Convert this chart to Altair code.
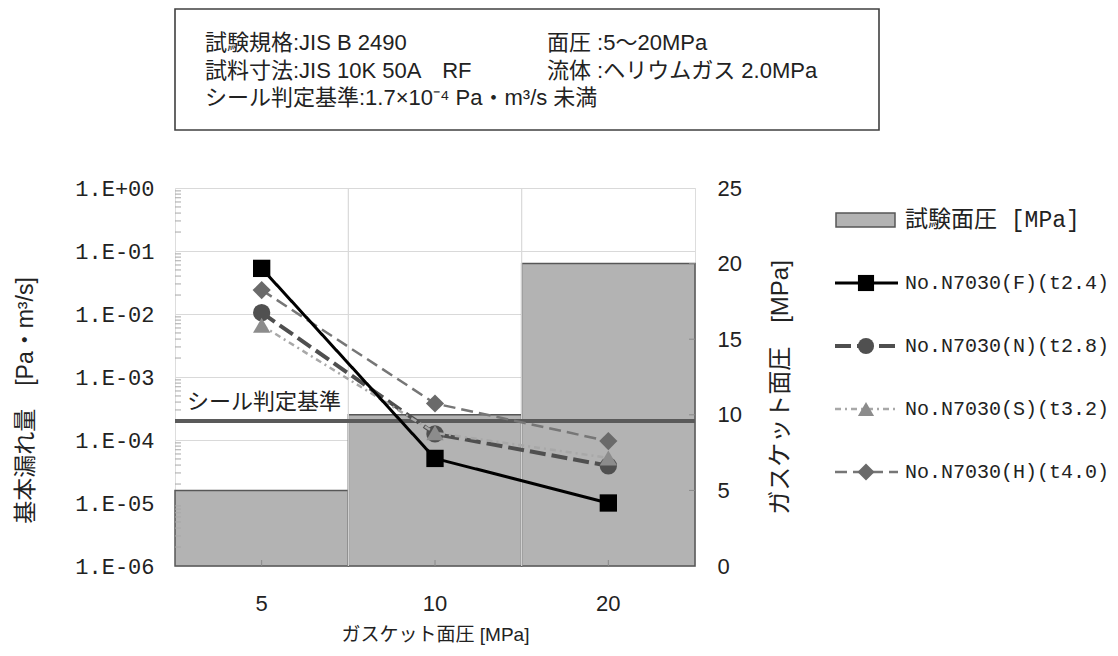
import json
import altair as alt
import pandas as pd

# ---------------- data ----------------
categories = ["5", "10", "20"]
test_pressure = [5, 10, 20]

series_names = [
    "No.N7030(F)(t2.4)",
    "No.N7030(N)(t2.8)",
    "No.N7030(S)(t3.2)",
    "No.N7030(H)(t4.0)",
]
leak_F = [5.3e-2, 5.1e-5, 1.0e-5]
leak_N = [1.05e-2, 1.25e-4, 3.9e-5]
leak_S = [6.6e-3, 1.3e-4, 5.2e-5]
leak_H = [2.4e-2, 3.8e-4, 9.6e-5]

criterion_value = 2.0e-4
criterion_label = "シール判定基準"

y_ticks = [1e0, 1e-1, 1e-2, 1e-3, 1e-4, 1e-5, 1e-6]
y_tick_labels = ["1.E+00", "1.E-01", "1.E-02", "1.E-03", "1.E-04", "1.E-05", "1.E-06"]
y_minor = [k * 10.0 ** n for n in range(-6, 0) for k in range(2, 10)]
y2_ticks = [0, 5, 10, 15, 20, 25]

bar_label = "試験面圧 [MPa]"
x_title = "ガスケット面圧 [MPa]"
y_title = "基本漏れ量\u3000[Pa・m³/s]"
y2_title = "ガスケット面圧\u3000[MPa]"

header_left = [
    "試験規格:JIS B 2490",
    "試料寸法:JIS 10K 50A\u3000RF",
    "シール判定基準:1.7×10⁻⁴ Pa・m³/s 未満",
]
header_right = [
    "面圧 :5～20MPa",
    "流体 :ヘリウムガス 2.0MPa",
]

# ---------------- layout / style ----------------
W, H = 520, 378
JP = "Liberation Sans, Noto Sans CJK JP"
MONO = "Liberation Mono, Noto Sans CJK JP"
TXT = "#222222"

series_leaks = [leak_F, leak_N, leak_S, leak_H]
series_style = [
    dict(color="#000000", mcolor="#000000", width=3, dash=[1, 0], shape="square", size=300),
    dict(color="#4f4f4f", mcolor="#505050", width=4, dash=[16, 6], shape="circle", size=300),
    dict(color="#a8a8a8", mcolor="#8c8c8c", width=2.5, dash=[6, 4, 2, 4], shape="triangle-up", size=300),
    dict(color="#767676", mcolor="#6a6a6a", width=2.5, dash=[12, 6], shape="diamond", size=330),
]

x_scale = alt.Scale(domain=categories, type="band", paddingInner=0, paddingOuter=0)
y_scale = alt.Scale(type="log", domain=[1e-6, 1])
b_scale = alt.Scale(domain=[0, 25])

label_expr = "%s[round(-log(datum.value)/LN10)]" % json.dumps(y_tick_labels)

y_axis = alt.Axis(
    orient="left", values=y_ticks, labelExpr=label_expr,
    labelFont="Liberation Mono", labelFontSize=22, labelColor=TXT, labelPadding=21,
    ticks=False, tickSize=0, domain=False,
    grid=True, gridColor="#d9d9d9", gridWidth=1.2,
    title=y_title, titleFont=JP, titleFontSize=23, titleFontWeight="normal",
    titleColor=TXT, titleAngle=270, titleX=-150, titleY=212,
    titleAlign="center", titleBaseline="middle",
)
b_axis = alt.Axis(
    orient="right", values=y2_ticks,
    labelFont="Liberation Sans", labelFontSize=22, labelColor=TXT, labelPadding=22,
    ticks=False, tickSize=0, domain=False, grid=False,
    title=y2_title, titleFont=JP, titleFontSize=24, titleFontWeight="normal",
    titleColor=TXT, titleAngle=270, titleX=85, titleY=199,
    titleAlign="center", titleBaseline="middle",
)
x_axis = alt.Axis(
    orient="bottom", labelAngle=0,
    labelFont="Liberation Sans", labelFontSize=22, labelColor=TXT, labelPadding=27,
    ticks=False, tickSize=0, domain=False, grid=False,
    title=x_title, titleFont=JP, titleFontSize=19, titleFontWeight="normal",
    titleColor=TXT, titleY=68, titleBaseline="middle",
)

def xenc():
    return alt.X("cat:N", scale=x_scale, sort=categories, axis=x_axis)

bar_df = pd.DataFrame({"cat": categories, "p": test_pressure})
one = pd.DataFrame({"k": [0]})

# ---------------- bar group (right axis) ----------------
vgrid = alt.Chart(pd.DataFrame({"cat": categories[1:]})).mark_rule(
    color="#d9d9d9", strokeWidth=1.2
).encode(
    x=alt.X("cat:N", scale=x_scale, sort=categories, axis=x_axis, bandPosition=0),
    y=alt.value(0), y2=alt.value(H),
)
bars = alt.Chart(bar_df).mark_bar(
    fill="#b3b3b3", stroke="#575757", strokeWidth=1.5
).encode(
    x=xenc(),
    y=alt.Y("p:Q", scale=b_scale, axis=b_axis),
)
xin = alt.Chart(bar_df).mark_rule(color="#8a8a8a", strokeWidth=1).encode(
    x=xenc(),
    y=alt.value(H - 6), y2=alt.value(H),
)
rin = alt.Chart(pd.DataFrame({"t": y2_ticks[1:-1]})).mark_rule(
    color="#8a8a8a", strokeWidth=1
).encode(
    x=alt.value(W - 6), x2=alt.value(W),
    y=alt.Y("t:Q", scale=b_scale, axis=b_axis),
)
bar_group = alt.layer(bars, vgrid, xin, rin)

# ---------------- leak group (left log axis) ----------------
minor = alt.Chart(pd.DataFrame({"v": y_minor})).mark_rule(
    color="#a8a8a8", strokeWidth=1
).encode(
    x=alt.value(0), x2=alt.value(6),
    y=alt.Y("v:Q", scale=y_scale, axis=y_axis),
)
crit_df = pd.DataFrame({"v": [criterion_value], "t": [criterion_label]})
crit_rule = alt.Chart(crit_df).mark_rule(color="#5a5a5a", strokeWidth=4).encode(
    y=alt.Y("v:Q", scale=y_scale, axis=y_axis),
)
crit_text = alt.Chart(crit_df).mark_text(
    align="left", baseline="middle", dy=-19, font=JP, fontSize=22, color=TXT
).encode(
    x=alt.value(12),
    y=alt.Y("v:Q", scale=y_scale, axis=y_axis),
    text="t:N",
)

leak_layers = [minor, crit_rule, crit_text]
draw_order = [1, 2, 3, 0]
for i in draw_order:
    st = series_style[i]
    df = pd.DataFrame({"cat": categories, "v": series_leaks[i]})
    enc = dict(x=xenc(), y=alt.Y("v:Q", scale=y_scale, axis=y_axis))
    leak_layers.append(
        alt.Chart(df).mark_line(
            color=st["color"], strokeWidth=st["width"], strokeDash=st["dash"]
        ).encode(**enc)
    )
    leak_layers.append(
        alt.Chart(df).mark_point(
            filled=True, opacity=1, shape=st["shape"], size=st["size"],
            color=st["mcolor"], strokeWidth=0
        ).encode(**enc)
    )
leak_group = alt.layer(*leak_layers)

# ---------------- legend ----------------
LX0, LX1, LXM, LXT = 660, 723, 691, 730
legend_layers = [
    alt.Chart(one).mark_rect(fill="#b3b3b3", stroke="#575757", strokeWidth=1.5).encode(
        x=alt.value(LX0 + 1), x2=alt.value(LX1 - 3), y=alt.value(25), y2=alt.value(39)
    ),
    alt.Chart(pd.DataFrame({"t": [bar_label]})).mark_text(
        align="left", baseline="middle", font=MONO, fontSize=23, color=TXT
    ).encode(x=alt.value(LXT), y=alt.value(32), text="t:N"),
]
for i, name in enumerate(series_names):
    st = series_style[i]
    yy = 95 + 63 * i
    legend_layers.append(
        alt.Chart(one).mark_rule(
            color=st["color"], strokeWidth=st["width"], strokeDash=st["dash"]
        ).encode(x=alt.value(LX0), x2=alt.value(LX1), y=alt.value(yy))
    )
    legend_layers.append(
        alt.Chart(one).mark_point(
            filled=True, opacity=1, shape=st["shape"], size=st["size"] - 40,
            color=st["mcolor"], strokeWidth=0
        ).encode(x=alt.value(LXM), y=alt.value(yy))
    )
    legend_layers.append(
        alt.Chart(pd.DataFrame({"t": [name]})).mark_text(
            align="left", baseline="middle", font=MONO, fontSize=20, color=TXT
        ).encode(x=alt.value(LXT), y=alt.value(yy), text="t:N")
    )

# ---------------- header box ----------------
header_layers = [
    alt.Chart(one).mark_rect(fill="white", stroke="#404040", strokeWidth=1.6).encode(
        x=alt.value(0), x2=alt.value(704), y=alt.value(-179), y2=alt.value(-58)
    )
]
for r, line in enumerate(header_left):
    header_layers.append(
        alt.Chart(pd.DataFrame({"t": [line]})).mark_text(
            align="left", baseline="middle", font=JP, fontSize=22, color=TXT
        ).encode(x=alt.value(30), y=alt.value(-145 + 27.5 * r), text="t:N")
    )
for r, line in enumerate(header_right):
    header_layers.append(
        alt.Chart(pd.DataFrame({"t": [line]})).mark_text(
            align="left", baseline="middle", font=JP, fontSize=22, color=TXT
        ).encode(x=alt.value(372), y=alt.value(-145 + 27.5 * r), text="t:N")
    )

chart = alt.layer(
    *header_layers, bar_group, leak_group, *legend_layers
).resolve_scale(y="independent").properties(
    width=W, height=H,
    padding={"left": 167, "top": 180, "right": 415, "bottom": 82},
    autosize=alt.AutoSizeParams(type="none"),
).configure_view(stroke="#cfcfcf", strokeWidth=1.2).configure(background="white")

chart.save("out.html", embed_options={"renderer": "svg", "actions": False})
